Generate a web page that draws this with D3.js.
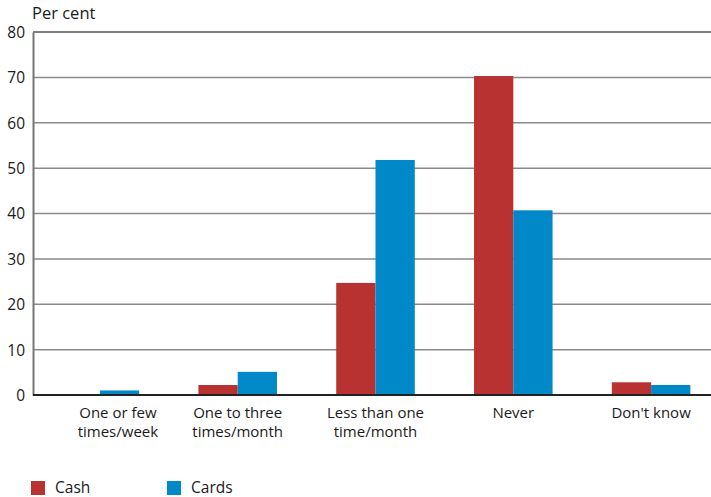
<!DOCTYPE html>
<html>
<head>
<meta charset="utf-8">
<script src="https://cdnjs.cloudflare.com/ajax/libs/d3/7.8.5/d3.min.js"></script>
<style>
    body { margin: 0; background: #fff; }
    text { font-family: "Open Sans", "Noto Sans", sans-serif; fill: #1a1a1a; }
</style>
</head>
<body>
<div id="viz"></div>
<script>
// data
const categories = ["One or few|times/week", "One to three|times/month", "Less than one|time/month", "Never", "Don't know"];
const seriesNames = ["Cash", "Cards"];
const cash = [0, 2.2, 24.7, 70.3, 2.8];
const cards = [1.0, 5.1, 51.8, 40.7, 2.2];
const yTicks = [0, 10, 20, 30, 40, 50, 60, 70, 80];
const colours = ["#b83232", "#0088c8"];

function chart() {
    const width = 711, height = 497;
    const left = 33, top = 32, bottom = 395;

    let svg = d3.select("#viz")
        .append("svg")
        .attr("width", width)
        .attr("height", height);

    let y = d3.scaleLinear().domain([0, 80]).range([bottom, top]);
    let x = d3.scaleBand().domain(categories).range([left - 2, 720]).paddingInner(0.43).paddingOuter(0.215);
    let xs = d3.scaleBand().domain(seriesNames).range([0, x.bandwidth()]);

    // gridlines
    svg.append("g")
        .selectAll("line")
        .data(yTicks.filter(d => d > 0))
        .join("line")
        .attr("x1", left)
        .attr("x2", width)
        .attr("y1", d => y(d))
        .attr("y2", d => y(d))
        .style("stroke", d => d == 80 ? "#555" : "#8a8a8a")
        .style("stroke-width", 1.5);

    // y axis
    let yAxis = svg.append("g")
        .attr("transform", `translate(${left},0)`)
        .call(d3.axisLeft(y).tickValues(yTicks).tickSize(0).tickPadding(8));
    yAxis.select(".domain").style("stroke", "#777").style("stroke-width", 2);
    yAxis.selectAll("text").style("font-size", "15.5px").attr("dy", "0.35em");

    // bars
    let rows = categories.map((c, i) => ({ cat: c, vals: [cash[i], cards[i]] }));
    svg.append("g")
        .selectAll("g")
        .data(rows)
        .join("g")
        .attr("transform", d => `translate(${x(d.cat)},0)`)
        .selectAll("rect")
        .data(d => d.vals.map((v, j) => ({ name: seriesNames[j], v: v, j: j })))
        .join("rect")
        .attr("x", d => xs(d.name))
        .attr("width", xs.bandwidth())
        .attr("y", d => y(d.v))
        .attr("height", d => y(0) - y(d.v))
        .style("fill", d => colours[d.j]);

    // zero line
    svg.append("line")
        .attr("x1", left)
        .attr("x2", width)
        .attr("y1", y(0))
        .attr("y2", y(0))
        .style("stroke", "#222")
        .style("stroke-width", 2);

    // category labels
    let xl = svg.append("g")
        .selectAll("text")
        .data(categories)
        .join("text")
        .attr("x", (d, i) => x(d) + x.bandwidth() / 2 + (i == 0 ? 18 : 0))
        .attr("y", 418)
        .attr("text-anchor", "middle")
        .style("font-size", "15px");
    xl.each(function (d) {
        d.split("|").forEach((part, k) => {
            d3.select(this).append("tspan")
                .attr("x", d3.select(this).attr("x"))
                .attr("dy", k == 0 ? 0 : "1.25em")
                .text(part);
        });
    });

    // unit label
    svg.append("text")
        .attr("x", 32)
        .attr("y", 19)
        .style("font-size", "16.5px")
        .text("Per cent");

    // legend
    let lg = svg.append("g")
        .selectAll("g")
        .data(seriesNames)
        .join("g")
        .attr("transform", (d, i) => `translate(${31 + i * 136},481)`);
    lg.append("rect")
        .attr("width", 14)
        .attr("height", 14)
        .style("fill", (d, i) => colours[i]);
    lg.append("text")
        .attr("x", 24)
        .attr("y", 12)
        .style("font-size", "15.5px")
        .text(d => d);
}

chart();
</script>
</body>
</html>
